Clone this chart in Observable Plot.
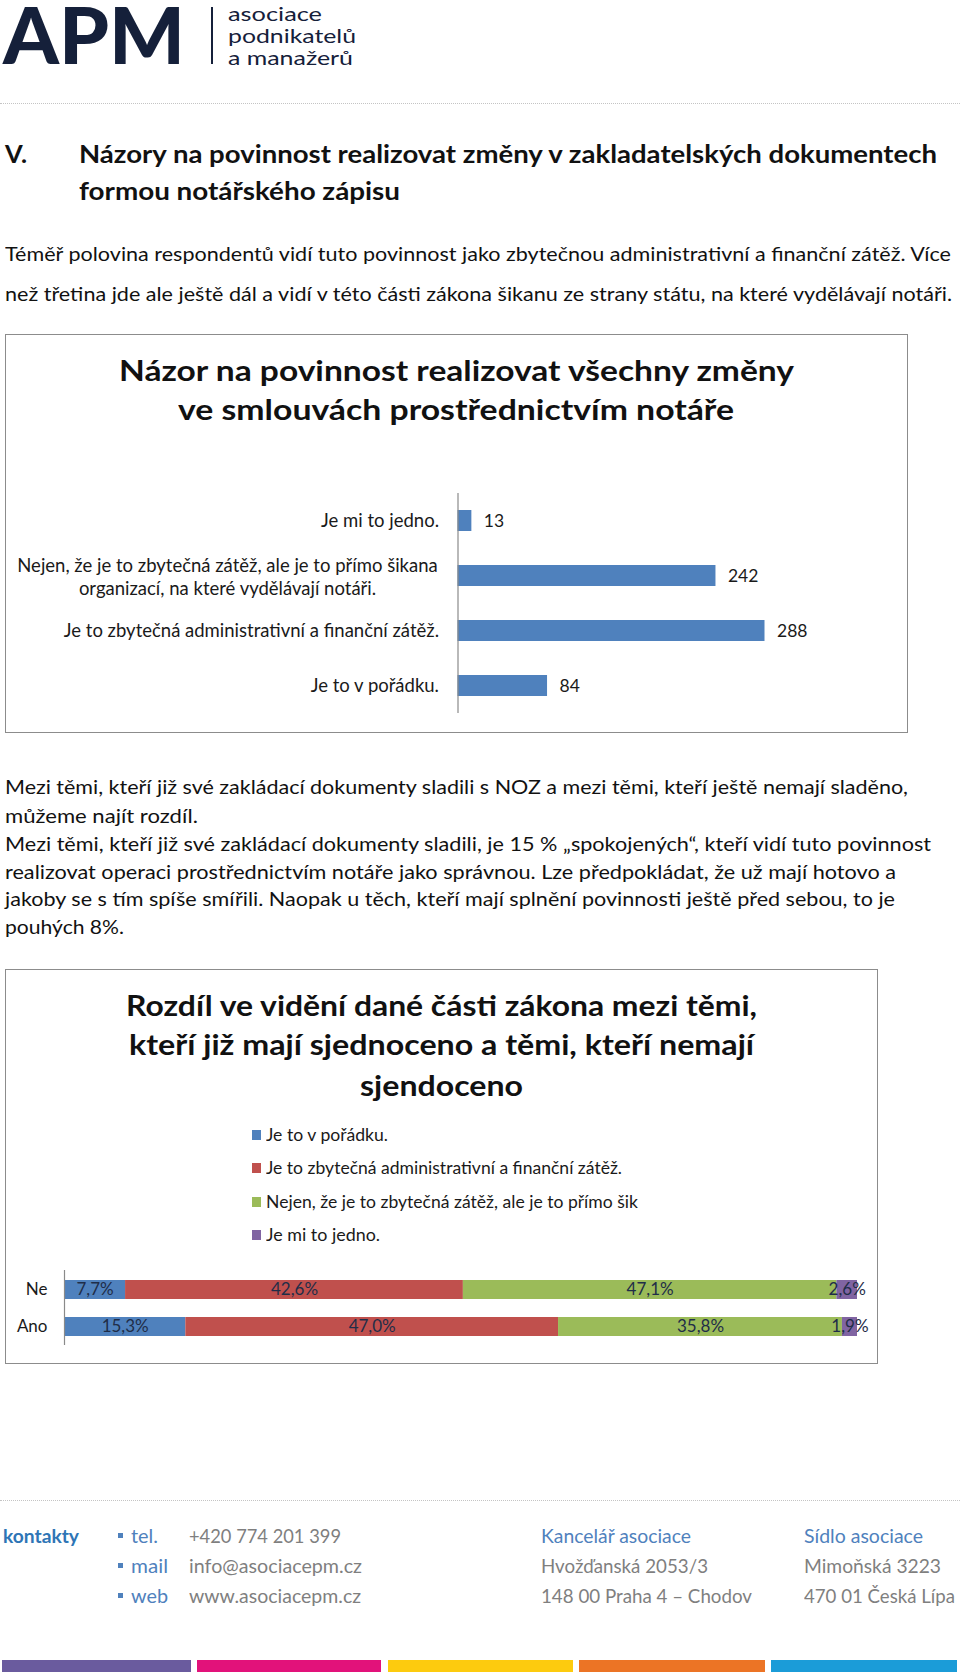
<!DOCTYPE html>
<html><head><meta charset="utf-8">
<script src="https://cdn.jsdelivr.net/npm/d3@7"></script>
<script src="https://cdn.jsdelivr.net/npm/@observablehq/plot@0.6"></script>
<style>
body{margin:0;background:#fff;}
#page{position:relative;width:960px;height:1677px;overflow:hidden;font-family:Lato,"Open Sans",sans-serif;color:#111;}
.ln{position:absolute;white-space:nowrap;transform-origin:0 50%;}
.box{position:absolute;border:1.5px solid #8c8c8c;box-sizing:border-box;}
.dots{position:absolute;left:0;width:960px;border-top:1.5px dotted #c4c4c4;}
.bar{position:absolute;height:12px;top:1660px;}
.sq{position:absolute;}
</style></head><body><div id="page"></div>
<script>
// ---- Data ----
const chart1Categories = ["Je mi to jedno.", "Nejen, že je to zbytečná zátěž, ale je to přímo šikana organizací, na které vydělávají notáři.", "Je to zbytečná administrativní a finanční zátěž.", "Je to v pořádku."];
const chart1Labels = ["Je mi to jedno.", "Nejen, že je to zbytečná zátěž, ale je to přímo šikana\norganizací, na které vydělávají notáři.", "Je to zbytečná administrativní a finanční zátěž.", "Je to v pořádku."];
const chart1Values = [13, 242, 288, 84];

const chart2Groups = ["Ne", "Ano"];
const chart2Categories = ["Je to v pořádku.", "Je to zbytečná administrativní a finanční zátěž.", "Nejen, že je to zbytečná zátěž, ale je to přímo šik", "Je mi to jedno."];
const chart2Ne = [7.7, 42.6, 47.1, 2.6];
const chart2Ano = [15.3, 47.0, 35.8, 1.9];
const chart2Colors = ["#4F81BD", "#C0504D", "#9BBB59", "#8064A2"];

const page = document.getElementById("page");
function line(text, x, cy, w, o = {}) {
  const s = document.createElement("div");
  s.className = "ln"; s.textContent = text;
  const size = o.size || 19, lh = o.lh || Math.round(size * 1.3);
  Object.assign(s.style, {left: x + "px", top: (cy - lh / 2) + "px", fontSize: size + "px", lineHeight: lh + "px",
    fontWeight: o.weight || 400, color: o.color || "#111", fontFamily: o.font || ""});
  page.appendChild(s);
  if (w) { const nat = s.getBoundingClientRect().width; s.style.transform = `scaleX(${w / nat})`; }
  return s;
}
function el(cls, style) { const d = document.createElement("div"); d.className = cls; Object.assign(d.style, style); page.appendChild(d); return d; }

// ---- Logo ----
const navy = "#15203a";
line("APM", 3, 34, 182, {size: 78, weight: 900, color: navy, lh: 64});
el("sq", {left: "211px", top: "7px", width: "2px", height: "57px", background: navy});
line("asociace", 228, 13, 94, {size: 20, color: navy, lh: 20});
line("podnikatelů", 228, 35, 128, {size: 20, color: navy, lh: 20});
line("a manažerů", 228, 57, 125, {size: 20, color: navy, lh: 20});
el("dots", {top: "103px"});

// ---- Heading & paragraph ----
line("V.", 5, 153, 22, {size: 25, weight: 700});
line("Názory na povinnost realizovat změny v zakladatelských dokumentech", 79, 153, 858, {size: 25, weight: 700});
line("formou notářského zápisu", 79, 190, 321, {size: 25, weight: 700});
line("Téměř polovina respondentů vidí tuto povinnost jako zbytečnou administrativní a finanční zátěž. Více", 5, 253, 946, {size: 19});
line("než třetina jde ale ještě dál a vidí v této části zákona šikanu ze strany státu, na které vydělávají notáři.", 5, 293, 947, {size: 19});

// ---- Chart 1 ----
el("box", {left: "5px", top: "334px", width: "903px", height: "399px"});
line("Názor na povinnost realizovat všechny změny", 119, 370, 675, {size: 29, weight: 700});
line("ve smlouvách prostřednictvím notáře", 178, 409, 556, {size: 29, weight: 700});

const data1 = chart1Categories.map((c, i) => ({cat: c, label: chart1Labels[i], value: chart1Values[i]}));
const c1 = Plot.plot({
  width: 960, height: 250, marginTop: 13, marginBottom: 17,
  style: {fontFamily: "Lato, sans-serif", fontSize: "15px", background: "transparent", overflow: "visible"},
  x: {domain: [0, 288], range: [457.5, 764.5], axis: null},
  y: {domain: chart1Categories, paddingInner: 0.62, paddingOuter: 0.31, axis: null},
  marks: [
    Plot.barX(data1, {x: "value", y: "cat", fill: "#4F81BD"}),
    Plot.ruleX([0], {stroke: "#8a8a8a", strokeWidth: 1.2}),
    Plot.text(data1.filter(d => !d.label.includes("\n")), {x: () => 0, y: "cat", text: "label", textAnchor: "end", dx: -19, fill: "#1a1a1a", fontSize: 18.5}),
    Plot.text(data1.filter(d => d.label.includes("\n")), {x: () => 0, y: "cat", text: "label", textAnchor: "middle", dx: -230.5, lineHeight: 1.25, fill: "#1a1a1a", fontSize: 18.5}),
    Plot.text(data1, {x: "value", y: "cat", text: d => String(d.value), textAnchor: "start", dx: 12, fill: "#1a1a1a", fontSize: 17.5})
  ]
});
const w1 = document.createElement("div"); Object.assign(w1.style, {position: "absolute", left: "0px", top: "480px"}); w1.appendChild(c1); page.appendChild(w1);

// ---- Paragraph 2 ----
const p2 = [
  ["Mezi těmi, kteří již své zakládací dokumenty sladili s NOZ a mezi těmi, kteří ještě nemají sladěno,", 903, 786],
  ["můžeme najít rozdíl.", 193, 815],
  ["Mezi těmi, kteří již své zakládací dokumenty sladili, je 15 % „spokojených“, kteří vidí tuto povinnost", 926, 843],
  ["realizovat operaci prostřednictvím notáře jako správnou. Lze předpokládat, že už mají hotovo a", 891, 871],
  ["jakoby se s tím spíše smířili. Naopak u těch, kteří mají splnění povinnosti ještě před sebou, to je", 890, 898],
  ["pouhých 8%.", 119, 926]
];
p2.forEach(([t, w, y]) => line(t, 5, y, w, {size: 19}));

// ---- Chart 2 ----
el("box", {left: "5px", top: "969px", width: "873px", height: "395px"});
line("Rozdíl ve vidění dané části zákona mezi těmi,", 126, 1005, 631, {size: 29, weight: 700});
line("kteří již mají sjednoceno a těmi, kteří nemají", 129, 1044, 625, {size: 29, weight: 700});
line("sjendoceno", 360, 1085, 163, {size: 29, weight: 700});

const legendY = [1135, 1168, 1202, 1235], legendW = [122, 356, 372, 114];
chart2Categories.forEach((c, i) => {
  el("sq", {left: "252px", top: (legendY[i] - 5) + "px", width: "9px", height: "10px", background: chart2Colors[i]});
  line(c, 266, legendY[i], legendW[i], {size: 16.5, color: "#1a1a1a"});
});

const data2 = [];
chart2Groups.forEach(g => chart2Categories.forEach((c, i) => data2.push({group: g, cat: c, value: (g === "Ne" ? chart2Ne : chart2Ano)[i]})));
const fmt = v => d3.format(".1f")(v).replace(".", ",") + "%";
const c2 = Plot.plot({
  width: 960, height: 90, marginTop: 8, marginBottom: 7,
  style: {fontFamily: "Lato, sans-serif", fontSize: "16px", background: "transparent", overflow: "visible"},
  x: {domain: [0, 100], range: [64, 857], axis: null},
  y: {domain: chart2Groups, paddingInner: 0.49, paddingOuter: 0.245, axis: null},
  color: {domain: chart2Categories, range: chart2Colors},
  marks: [
    Plot.barX(data2, Plot.stackX({x: "value", y: "group", fill: "cat", order: chart2Categories})),
    Plot.ruleX([0], {stroke: "#8a8a8a", strokeWidth: 1.2}),
    Plot.text(data2, Plot.stackX({x: "value", y: "group", z: "cat", order: chart2Categories, text: d => fmt(d.value), fill: "#1f2d48", fontSize: 17})),
    Plot.text(chart2Groups, {x: () => 0, y: d => d, text: d => d, textAnchor: "end", dx: -17, fill: "#1a1a1a", fontSize: 17})
  ]
});
const w2 = document.createElement("div"); Object.assign(w2.style, {position: "absolute", left: "0px", top: "1262px"}); w2.appendChild(c2); page.appendChild(w2);

// ---- Footer ----
el("dots", {top: "1500px"});
const blueD = "#2E75B6", blueL = "#4F81BD", grey = "#7f7f7f";
line("kontakty", 3, 1535, 76, {size: 19, weight: 700, color: blueD});
const fy = [1535, 1565, 1595];
[["tel.", 27, "+420 774 201 399", 152], ["mail", 37, "info@asociacepm.cz", 173], ["web", 37, "www.asociacepm.cz", 172]].forEach(([a, aw, b, bw], i) => {
  el("sq", {left: "118px", top: (fy[i] - 2) + "px", width: "5px", height: "5px", background: blueL});
  line(a, 131, fy[i], aw, {size: 19, color: blueL});
  line(b, 189, fy[i], bw, {size: 19, color: grey});
});
line("Kancelář asociace", 541, 1535, 150, {size: 19, color: blueL});
line("Hvožďanská 2053/3", 541, 1565, 167, {size: 19, color: grey});
line("148 00 Praha 4 – Chodov", 541, 1595, 211, {size: 19, color: grey});
line("Sídlo asociace", 804, 1535, 119, {size: 19, color: blueL});
line("Mimoňská 3223", 804, 1565, 137, {size: 19, color: grey});
line("470 01 Česká Lípa", 804, 1595, 151, {size: 19, color: grey});

[["#6A5B9E", 2, 191], ["#E2127A", 197, 381], ["#FDCB0E", 388, 573], ["#EC7425", 579, 765], ["#1B9CD8", 771, 957]].forEach(([c, a, b]) => {
  el("bar", {left: a + "px", width: (b - a) + "px", background: c});
});
</script>
</body></html>
